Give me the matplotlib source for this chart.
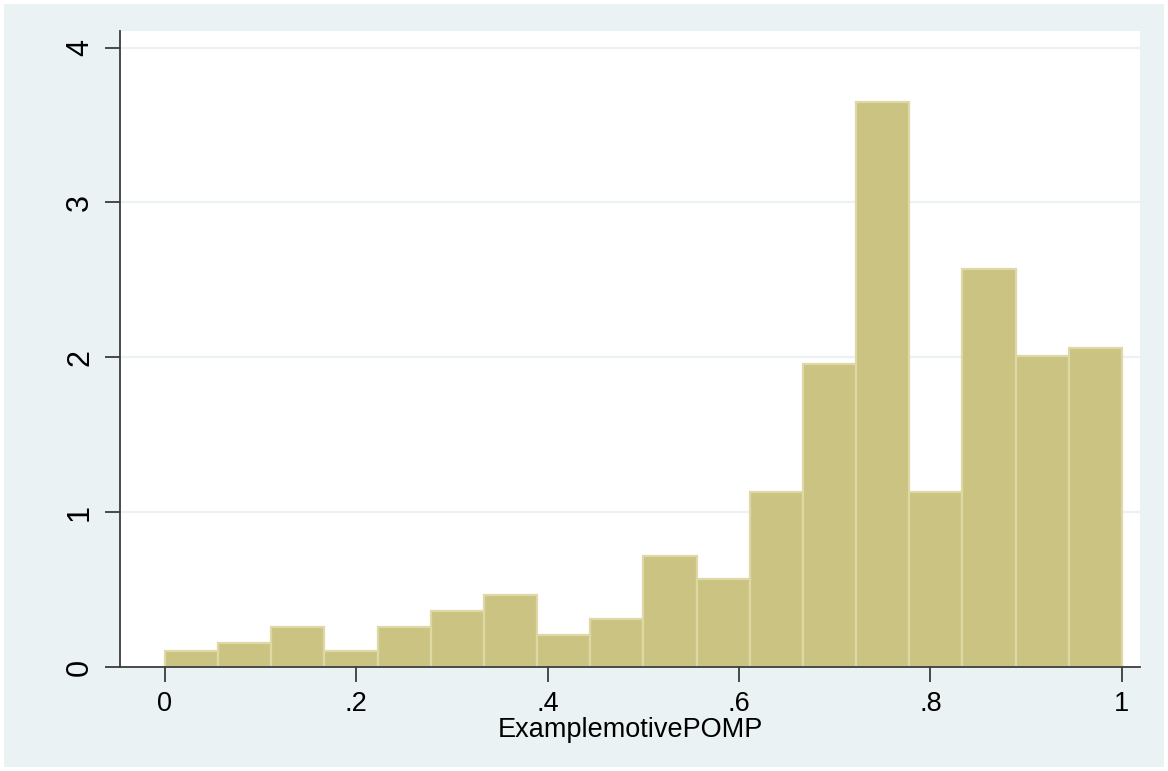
import numpy as np
import matplotlib.pyplot as plt
from matplotlib.patches import Rectangle

# histogram densities (18 equal bins over 0..1)
bin_lo, bin_hi, n_bins = 0.0, 1.0, 18
density = [0.103, 0.154, 0.257, 0.103, 0.257, 0.360, 0.463, 0.206, 0.309,
           0.720, 0.566, 1.131, 1.954, 3.651, 1.131, 2.571, 2.006, 2.057]
x_ticks = [0, 0.2, 0.4, 0.6, 0.8, 1.0]
x_ticklabels = ["0", ".2", ".4", ".6", ".8", "1"]
y_ticks = [0, 1, 2, 3, 4]
x_label = "ExamplemotivePOMP"

bg = "#EAF2F3"
bar_fill = "#CBC382"
bar_edge = "#DDD8A6"
axis_col = "#3C3C3C"

# the original text looks stretched sideways: a slightly bigger face along x,
# a narrow one for the rotated y labels
plt.rcParams['font.family'] = ['Liberation Sans', 'DejaVu Sans']
y_font = ['Liberation Sans Narrow', 'Liberation Sans', 'DejaVu Sans']

fig = plt.figure(figsize=(11.68, 7.71), dpi=100, facecolor="white")
fig.patches.append(Rectangle((4 / 1168, 4 / 771), 1 - 8 / 1168, 1 - 8 / 771,
                             transform=fig.transFigure, facecolor=bg,
                             edgecolor="none", zorder=-10))
ax = fig.add_axes([120 / 1168, 104 / 771, 1020 / 1168, 636 / 771])
ax.set_facecolor("white")

edges = np.linspace(bin_lo, bin_hi, n_bins + 1)
ax.bar(edges[:-1], density, width=np.diff(edges), align='edge',
       color=bar_fill, edgecolor=bar_edge, linewidth=1.6, zorder=3)

ax.set_xlim(-0.047, 1.019)
ax.set_ylim(0, 4.107)

ax.set_yticks(y_ticks)
ax.set_yticklabels([str(v) for v in y_ticks], rotation=90, va='center',
                   family=y_font, fontsize=22)
ax.set_xticks(x_ticks)
ax.set_xticklabels(x_ticklabels, fontsize=19.5)
ax.set_xlabel(x_label, fontsize=19.5, labelpad=0, color="black")

for v in y_ticks[1:]:
    ax.axhline(v, color=bg, linewidth=1.6, zorder=1)

for s in ['top', 'right']:
    ax.spines[s].set_visible(False)
for s in ['left', 'bottom']:
    ax.spines[s].set_color(axis_col)
    ax.spines[s].set_linewidth(1.3)
    ax.spines[s].set_zorder(4)

ax.tick_params(axis='both', direction='out', length=11, width=1.3,
               color=axis_col, labelcolor="black")
ax.tick_params(axis='y', pad=7)
ax.tick_params(axis='x', pad=6)

fig.savefig("out.png", dpi=100, facecolor=fig.get_facecolor())
